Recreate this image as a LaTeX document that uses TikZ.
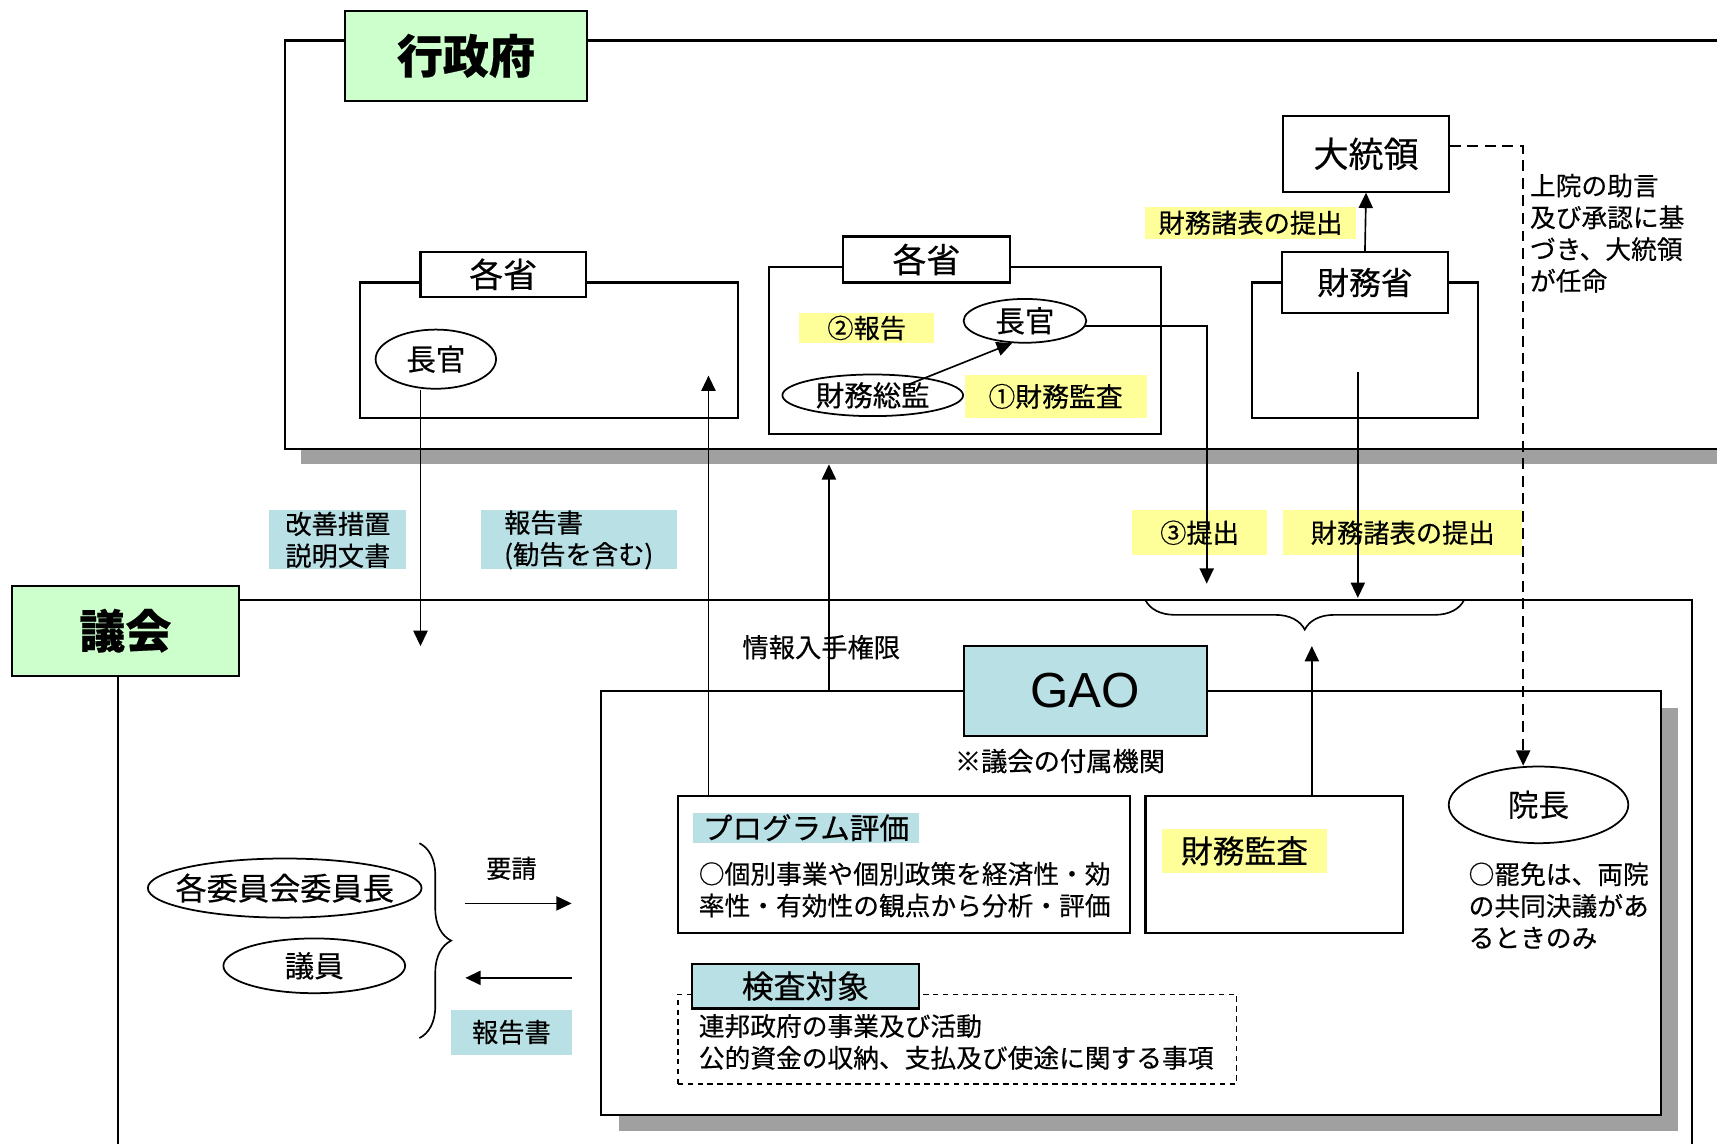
\documentclass[tikz,border=0pt]{standalone}
\usepackage{fontspec}
\setmainfont{Noto Sans CJK JP}[FakeBold=0.4]
\newfontfamily\latinfont{Liberation Sans}
\usetikzlibrary{calc,arrows.meta,positioning,shapes.geometric,decorations.pathreplacing}
\definecolor{tabgreen}{HTML}{CCFFCC}
\definecolor{gaoblue}{HTML}{B9E0E4}
\definecolor{markyellow}{HTML}{FFFF99}
\definecolor{shadowgray}{HTML}{A0A0A0}
\newcommand{\jfont}[1]{\fontsize{#1}{29}\selectfont}

\begin{document}
\begin{tikzpicture}[x=1pt,y=-1pt,>={Triangle[length=14pt,width=13pt]},inner sep=0pt]
      % Styles
      \tikzset{panel/.style 2 args={draw,line width=2pt,fill=white,minimum width=#1,minimum height=#2},
               shade/.style={fill=shadowgray,draw=none},
               oval/.style 2 args={draw,ellipse,line width=1.6pt,fill=white,minimum width=#1,minimum height=#2},
               mark/.style 2 args={minimum width=#1,minimum height=#2,align=left},
               note/.style={font=\jfont{23.5},align=left},
               flow/.style={->,line width=1.5pt},
               link/.style={->,line width=1.5pt,dash pattern=on 10pt off 6pt},
               curly/.style={decorate,decoration={brace,amplitude=#1},line width=1.5pt}}

      % Canvas
      \useasboundingbox (0,0) rectangle (1568,1044);
      \fill[white] (0,0) rectangle (1568,1044);

      % Outer frames (with drop shadows)
      \fill[shade] (275,52) rectangle (1620,424);
      \node[panel={1360}{373}] (gyosei) at (940,223.5) {};
      \node[panel={1437}{560}] (gikai) at (826.5,828) {};
      \fill[shade] (565,647) rectangle (1532,1033);
      \node[panel={968}{387}] (gao) at (1033,824.5) {};

      % Ministries in the executive
      \node[panel={345}{124}] (shoA) at (501.5,320) {};
      \node[panel={358}{152}] (shoB) at (881,320) {};
      \node[panel={207}{124}] (zaimu) at (1246.5,320) {};

      % Tabs
      \node[panel={221}{82},fill=tabgreen,font=\bfseries\fontsize{42}{48}\selectfont] (gyoseiTab) at (425.5,51) {行政府};
      \node[panel={207}{82},fill=tabgreen,font=\bfseries\fontsize{42}{48}\selectfont] (gikaiTab) at (114.5,576) {議会};
      \node[panel={222}{82},fill=gaoblue,font=\latinfont\fontsize{45}{54}\selectfont] (gaoTab) at (991,631) {GAO};
      \node[panel={151}{41},font=\jfont{31}] (shoATab) at (459.5,250.5) {各省};
      \node[panel={152}{42},font=\jfont{31}] (shoBTab) at (846,237) {各省};
      \node[panel={151}{56},font=\jfont{29}] (zaimuTab) at (1246.5,258) {財務省};
      \node[panel={151}{69},font=\jfont{32}] (daitoryo) at (1247.5,140.5) {大統領};

      % GAO work
      \node[panel={413}{125}] (program) at (825.5,789.5) {};
      \node[panel={235}{125}] (audit) at (1163.5,789.5) {};
      \node[draw,line width=1.4pt,dash pattern=on 5pt off 4pt,minimum width=510,minimum height=82] (kensa) at (874,949) {};
      \node[panel={207}{41},fill=gaoblue,font=\jfont{29}] (kensaTab) at (735.5,900.5) {検査対象};

      % Highlighted labels
      \node[mark={123}{27},fill=markyellow,font=\jfont{24}] (hokokuMark) at (791.5,299.5) {②報告};
      \node[mark={166}{40},fill=markyellow,font=\jfont{24.5}] (kansaMark) at (964,362) {①財務監査};
      \node[mark={192}{29},fill=markyellow,font=\jfont{24}] (zaimuMarkA) at (1142,203.5) {財務諸表の提出};
      \node[mark={123}{41},fill=markyellow,font=\jfont{24}] (teishutsuMark) at (1095.5,486.5) {③提出};
      \node[mark={218}{41},fill=markyellow,font=\jfont{24}] (zaimuMarkB) at (1281,486.5) {財務諸表の提出};
      \node[mark={125}{54},fill=gaoblue,font=\jfont{24}] (kaizenMark) at (308.5,493) {改善措置\\説明文書};
      \node[mark={179}{54},fill=gaoblue,font=\jfont{24}] (kankokuMark) at (528.5,493) {報告書\\(勧告を含む)};
      \node[mark={110}{41},fill=gaoblue,font=\jfont{24}] (replyMark) at (467,942.5) {報告書};
      \node[mark={206}{28},fill=gaoblue,font=\jfont{27}] (programMark) at (736,756) {プログラム評価};
      \node[mark={151}{40},fill=markyellow,font=\jfont{29}] (auditMark) at (1136.5,777) {財務監査};

      % Officials
      \node[oval={110}{54},font=\jfont{27}] (chokanA) at (398,328) {長官};
      \node[oval={112}{40},font=\jfont{27}] (chokanB) at (936,293) {長官};
      \node[oval={165}{38},font=\jfont{26}] (somukan) at (797,361) {財務総監};
      \node[oval={164}{70},font=\jfont{28}] (incho) at (1405,735) {院長};
      \node[oval={250}{54},font=\jfont{28.5}] (iincho) at (260,811) {\makebox[0pt]{各委員会委員長}};
      \node[oval={166}{50},font=\jfont{27}] (giin) at (287,882) {議員};

      % Connectors
      \coordinate (kaizenEnd) at (384,590);
      \draw[flow] (chokanA.south -| kaizenEnd) -- (kaizenEnd);
      \coordinate (reportEnd) at (647,343);
      \draw[flow] (program.north -| reportEnd) -- (reportEnd);
      \coordinate (infoEnd) at (757,424);
      \draw[flow] (gao.north -| infoEnd) -- (infoEnd);
      \draw[flow] ($(somukan.center)+(33,-10)$) -- (chokanB.-120);
      \coordinate (submitEnd) at (1102,533);
      \draw[flow] (chokanB.-5) -| (submitEnd);
      \coordinate (zaimuStart) at (1240,340);
      \coordinate (zaimuEnd) at (1240,546);
      \draw[flow] (zaimuStart) -- (zaimuEnd);
      \draw[flow] (zaimuTab.north) -- (daitoryo.south);
      \draw[link] ($(daitoryo.east)+(0,-7)$) -| ($(incho.north)+(-14,0)$);
      \coordinate (braceTip) at (1198,590);
      \draw[flow] (audit.north -| braceTip) -- (braceTip);
      \coordinate (reqStart) at (425,825);
      \coordinate (reqEnd) at (522,825);
      \draw[flow] (reqStart) -- (reqEnd);
      \coordinate (ansStart) at (522,893);
      \coordinate (ansEnd) at (425,893);
      \draw[flow] (ansStart) -- (ansEnd);

      % Braces
      \draw[curly=27pt] (1337,548) -- (1046,548);
      \draw[curly=29pt] (383,770) -- (383,948);

      % Notes
      \node[note,anchor=west] (senate) at (1397,213) {上院の助言\\及び承認に基\\づき、大統領\\が任命};
      \node[note,anchor=west] (dismiss) at (1341,827) {○罷免は、両院\\の共同決議があ\\るときのみ};
      \node[note,anchor=west] (programText) at (638,812.5) {○個別事業や個別政策を経済性・効\\率性・有効性の観点から分析・評価};
      \node[note,anchor=west] (kensaText) at (638,951.5) {連邦政府の事業及び活動\\公的資金の収納、支払及び使途に関する事項};
      \node[font=\jfont{24}] (infoLabel) at (750,591) {情報入手権限};
      \node[font=\jfont{24}] (gaoNote) at (968,695) {※議会の付属機関};
      \node[font=\jfont{23}] (yosei) at (467,793) {要請};
\end{tikzpicture}
\end{document}
